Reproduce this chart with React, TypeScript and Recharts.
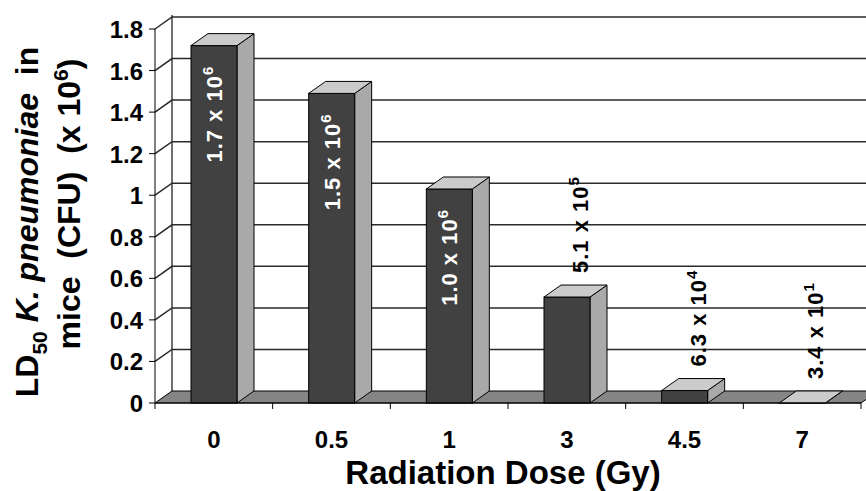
import React from 'react';
import { BarChart, Bar, XAxis, YAxis, CartesianGrid, LabelList } from 'recharts';

// radiation dose categories (Gy)
const doses = ['0', '0.5', '1', '3', '4.5', '7'];
// LD50 in units of 10^6 CFU
const ld50 = [1.72, 1.49, 1.03, 0.51, 0.06, 0.00003];
// the labels printed on the bars: mantissa x 10^exp
const labelBase = ['1.7', '1.5', '1.0', '5.1', '6.3', '3.4'];
const labelExp = ['6', '6', '6', '5', '4', '1'];
const yTicks = [0, 0.2, 0.4, 0.6, 0.8, 1, 1.2, 1.4, 1.6, 1.8];
const edgeTicks = [0, 1, 2, 3, 4, 5, 6];

const data = doses.map((dose, i) => ({ dose, ld50: ld50[i], edge: i }));

const FONT = '"Liberation Sans", Arial, Helvetica, sans-serif';
const DX = 17; // depth of the 3d effect
const DY = 12;

const Bar3D = (props: any) => {
  const { x, y, width, height } = props;
  const top = `M${x},${y} L${x + DX},${y - DY} L${x + width + DX},${y - DY} L${x + width},${y} Z`;
  const side = `M${x + width},${y} L${x + width + DX},${y - DY} L${x + width + DX},${y + height - DY} L${x + width},${y + height} Z`;
  return (
    <g>
      <path d={side} fill="#a9a9a9" stroke="#000" strokeWidth={1} />
      <rect x={x} y={y} width={width} height={height} fill="#414141" stroke="#000" strokeWidth={1} />
      <path d={top} fill="#cbcbcb" stroke="#000" strokeWidth={1} />
    </g>
  );
};

const BarLabel = (props: any) => {
  const vb = props.viewBox ?? props;
  const { x, y, width } = vb;
  const i = props.index ?? ld50.indexOf(props.value);
  const cx = x + width / 2;
  const inside = ld50[i] > 0.8;
  const tx = inside ? cx + 8 : cx + 21;
  const ty = inside ? y + 20 : y - 24;
  return (
    <text
      transform={`translate(${tx},${ty}) rotate(-90)`}
      textAnchor={inside ? 'end' : 'start'}
      fill={inside ? '#fff' : '#000'}
      fontFamily={FONT}
      fontWeight="bold"
      fontSize={22}
      letterSpacing={1}
    >
      {labelBase[i] + ' x 10'}
      <tspan dy={-9} fontSize={15}>{labelExp[i]}</tspan>
    </text>
  );
};

// back wall gridlines, joined to the front axis ticks by a diagonal, plus the floor
const BackLine = (props: any) => {
  const { x1, y1, x2, y, height, index } = props;
  const isFloor = Math.abs(y1 - (y + height)) < 0.5;
  if (isFloor) {
    return (
      <g key={`floor-${index}`}>
        <line x1={x1 + DX} y1={y - DY - 2} x2={x1 + DX} y2={y1 - DY} stroke="#222" strokeWidth={1.3} />
        <path
          d={`M${x1},${y1} L${x1 + DX},${y1 - DY} L${x2 + DX},${y1 - DY} L${x2},${y1} Z`}
          fill="#858585"
          stroke="#000"
          strokeWidth={1}
        />
      </g>
    );
  }
  return (
    <path
      key={`back-${index}`}
      d={`M${x1},${y1} L${x1 + DX},${y1 - DY} L${x2 + DX},${y1 - DY}`}
      fill="none"
      stroke="#2a2a2a"
      strokeWidth={1.5}
    />
  );
};

// tick marks between categories
const EdgeTick = (props: any) => {
  const { x1, y2, index } = props;
  return <line key={`edge-${index}`} x1={x1} y1={y2} x2={x1} y2={y2 + 6} stroke="#000" strokeWidth={1} />;
};

const XTick = (props: any) => (
  <text x={props.x} y={props.y + 45} textAnchor="middle" fill="#000" fontFamily={FONT} fontWeight="bold" fontSize={24}>
    {props.payload.value}
  </text>
);

const YTick = (props: any) => (
  <text x={props.x} y={props.y + 9} textAnchor="end" fill="#000" fontFamily={FONT} fontWeight="bold" fontSize={24}>
    {props.payload.value}
  </text>
);

const YTitle = (props: any) => {
  const vb = props.viewBox;
  const cy = vb.y + vb.height / 2;
  return (
    <g fontFamily={FONT} fontWeight="bold" fontSize={32} fill="#000">
      <text transform={`translate(38,${cy + 6}) rotate(-90)`} textAnchor="middle">
        LD
        <tspan fontSize={21} dy={9}>50</tspan>
        <tspan dy={-9}>{'\u00a0'}</tspan>
        <tspan fontStyle="italic">K. pneumoniae</tspan>
        <tspan>{'\u00a0\u00a0in'}</tspan>
      </text>
      <text transform={`translate(80,${cy - 12}) rotate(-90)`} textAnchor="middle">
        {'mice\u00a0\u00a0(CFU)\u00a0\u00a0(x 10'}
        <tspan fontSize={21} dy={-12}>6</tspan>
        <tspan dy={12}>)</tspan>
      </text>
    </g>
  );
};

const XTitle = (props: any) => {
  const vb = props.viewBox;
  return (
    <text
      x={vb.x + vb.width / 2 - 5}
      y={vb.y + 81}
      textAnchor="middle"
      fill="#000"
      fontFamily={FONT}
      fontWeight="bold"
      fontSize={33}
    >
      Radiation Dose (Gy)
    </text>
  );
};

const App: React.FC = () => {
  return (
    <div style={{ position: 'absolute', left: 0, top: 0, width: 866, height: 491, background: '#fff' }}>
      <BarChart width={866} height={491} data={data} margin={{ top: 29, right: 5, bottom: 0, left: 0 }}>
        <CartesianGrid xAxisId="edge" horizontal={BackLine} vertical={EdgeTick} fill="none" />
        <XAxis xAxisId="edge" dataKey="edge" type="number" domain={[0, 6]} ticks={edgeTicks} hide />
        <XAxis
          xAxisId="cat"
          dataKey="dose"
          height={88}
          tickLine={false}
          tickSize={0}
          tickMargin={0}
          axisLine={{ stroke: '#000', strokeWidth: 1 }}
          tick={<XTick />}
          interval={0}
          label={{ content: (p: any) => <XTitle {...p} /> }}
        />
        <YAxis
          width={155}
          domain={[0, 1.8]}
          ticks={yTicks}
          interval={0}
          tickSize={6}
          tickMargin={6}
          axisLine={{ stroke: '#000', strokeWidth: 1 }}
          tickLine={{ stroke: '#000', strokeWidth: 1 }}
          tick={<YTick />}
          label={{ content: (p: any) => <YTitle {...p} /> }}
        />
        <Bar xAxisId="cat" dataKey="ld50" barSize={46} shape={<Bar3D />} isAnimationActive={false}>
          <LabelList dataKey="ld50" content={<BarLabel />} />
        </Bar>
      </BarChart>
    </div>
  );
};

export default App;
